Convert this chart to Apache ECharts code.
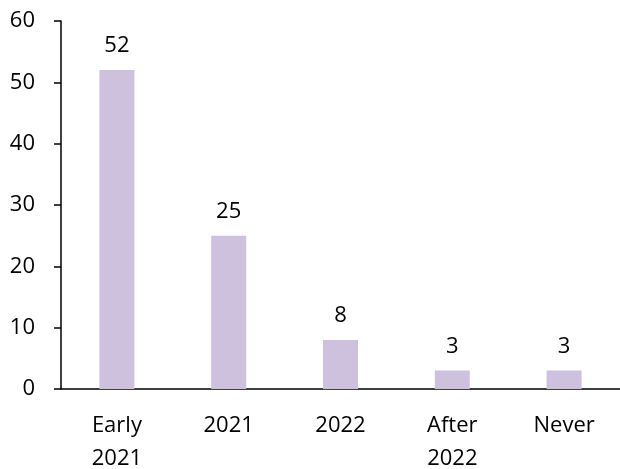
<!DOCTYPE html>
<html><head><meta charset="utf-8">
<script src="https://cdn.jsdelivr.net/npm/echarts@6/dist/echarts.min.js"></script>
<style>html,body{margin:0;padding:0;background:#fff}#c{width:620px;height:469px}</style>
</head><body><div id="c"></div>
<script>
const categories = ['Early\n2021', '2021', '2022', 'After\n2022', 'Never'];
const values = [52, 25, 8, 3, 3];
const yTicks = { min: 0, max: 60, interval: 10 };

const font = 'Open Sans';
const chart = echarts.init(document.getElementById('c'));
chart.setOption({
  animation: false,
  grid: { left: 61, right: 0, top: 21, bottom: 80, outerBoundsMode: 'none', containLabel: false },
  xAxis: {
    type: 'category', data: categories,
    axisLine: { lineStyle: { color: '#000', width: 1.5 } },
    axisTick: { show: false },
    axisLabel: { color: '#000', fontFamily: font, fontSize: 22, margin: 20, lineHeight: 33, interval: 0 }
  },
  yAxis: {
    type: 'value', min: yTicks.min, max: yTicks.max, interval: yTicks.interval,
    splitLine: { show: false },
    axisLine: { show: true, lineStyle: { color: '#000', width: 1.5 } },
    axisTick: { show: true, length: 7, lineStyle: { color: '#000', width: 1.5 } },
    axisLabel: { color: '#000', fontFamily: font, fontSize: 22, margin: 26 }
  },
  series: [{
    type: 'bar', data: values, barWidth: 35,
    itemStyle: { color: '#CDC1DD' },
    label: { show: true, position: 'top', distance: 13, color: '#000', fontFamily: font, fontSize: 22 }
  }]
});
</script></body></html>
